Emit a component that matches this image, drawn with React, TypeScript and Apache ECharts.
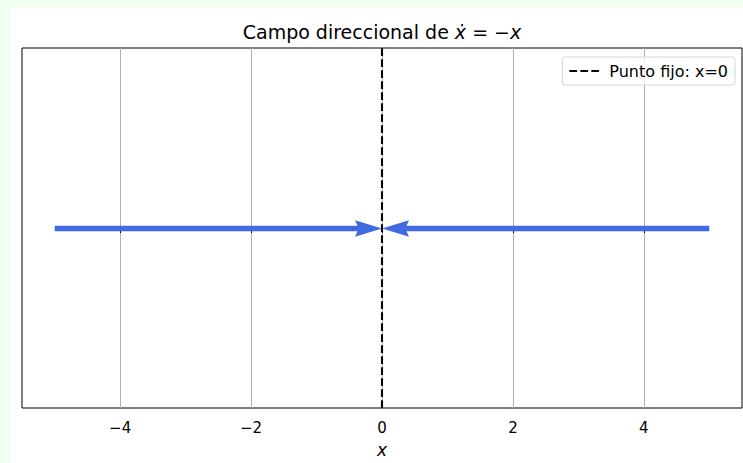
import React, { useEffect, useRef } from "react";
import * as echarts from "echarts";

// Direction field of x' = -x: arrows along the line pointing to the fixed point
const arrowTails = [-5, 5];
const arrowTips = [0, 0];
const arrowLevel = 0;
const fixedPoint = 0;
const fixedPointLabel = "Punto fijo: x=0";
const xTicks = [-4, -2, 0, 2, 4];
const xRange = [-5.5, 5.5];
const yRange = [-1, 1];

const FONT = "DejaVu Sans";
const BLUE = "#4169e1";

export default function App() {
  const ref = useRef<HTMLDivElement>(null);

  useEffect(() => {
    if (!ref.current) return;
    const chart = echarts.init(ref.current, undefined, { renderer: "svg" });

    const arrowData = arrowTails.map((t, i) => [t, arrowTips[i], arrowLevel]);

    chart.setOption({
      animation: false,
      backgroundColor: "#ffffff",
      graphic: [
        {
          type: "text",
          x: 372,
          y: 24,
          style: {
            text: "{n|Campo direccional de }{i|ẋ}{n| = −}{i|x}",
            align: "center",
            verticalAlign: "middle",
            rich: {
              n: { fontFamily: FONT, fontSize: 19, fill: "#000" },
              i: { fontFamily: FONT, fontSize: 19, fontStyle: "italic", fill: "#000" },
            },
          },
        },
      ],
      grid: {
        left: 12,
        right: 1,
        top: 40,
        bottom: 55,
        show: true,
        borderColor: "#000",
        borderWidth: 1,
        backgroundColor: "#fff",
      },
      legend: {
        right: 8,
        top: 49,
        padding: [6, 7, 6, 6],
        itemWidth: 30,
        itemHeight: 10,
        itemGap: 10,
        backgroundColor: "rgba(255,255,255,0.8)",
        borderColor: "#d5d5d5",
        borderWidth: 1,
        borderRadius: 3,
        itemStyle: { opacity: 0 },
        textStyle: { fontFamily: FONT, fontSize: 16, color: "#000", padding: [0, 0, 0, 5] },
        data: [fixedPointLabel],
      },
      xAxis: {
        type: "value",
        min: xRange[0],
        max: xRange[1],
        name: "x",
        nameLocation: "middle",
        nameGap: 33,
        nameTextStyle: { fontFamily: FONT, fontSize: 17, fontStyle: "italic", color: "#000" },
        axisLine: { show: false },
        axisTick: {
          show: true,
          customValues: xTicks,
          length: 5,
          lineStyle: { color: "#000", width: 1 },
        },
        axisLabel: {
          customValues: xTicks,
          margin: 12,
          fontFamily: FONT,
          fontSize: 15,
          color: "#000",
          formatter: (v: number) => String(v).replace("-", "−"),
        },
        splitLine: { show: true, lineStyle: { color: "#b0b0b0", width: 1 } },
      },
      yAxis: {
        type: "value",
        min: yRange[0],
        max: yRange[1],
        show: false,
        splitLine: { show: false },
      },
      series: [
        {
          type: "custom",
          name: "campo",
          z: 2,
          data: arrowData,
          renderItem: (_params: any, api: any) => {
            const p0 = api.coord([api.value(0), api.value(2)]);
            const p1 = api.coord([api.value(1), api.value(2)]);
            const dir = p1[0] >= p0[0] ? 1 : -1;
            const y = p0[1] + 0.5;
            const sh = 2.75; // half shaft width
            const hh = 8.25; // half head width
            const headLen = 27;
            const headAxis = 24.5;
            const tip = p1[0];
            const back = tip - dir * headLen;
            const notch = tip - dir * headAxis;
            return {
              type: "polygon",
              shape: {
                points: [
                  [p0[0], y - sh],
                  [notch, y - sh],
                  [back, y - hh],
                  [tip, y],
                  [back, y + hh],
                  [notch, y + sh],
                  [p0[0], y + sh],
                ],
              },
              style: { fill: BLUE },
            };
          },
        },
        {
          type: "line",
          name: fixedPointLabel,
          z: 5,
          symbol: "none",
          data: [
            [fixedPoint, yRange[0]],
            [fixedPoint, yRange[1]],
          ],
          lineStyle: { color: "#000", width: 2.1, type: [7.7, 3.3] },
          itemStyle: { color: "#000" },
        },
      ],
    });

    return () => chart.dispose();
  }, []);

  return (
    <div
      style={{
        position: "fixed",
        left: 0,
        top: 0,
        right: 0,
        bottom: 0,
        background: "#f0fff0",
        overflow: "hidden",
      }}
    >
      <div
        ref={ref}
        style={{ position: "absolute", left: 10, top: 8, width: 733, height: 455, background: "#fff" }}
      />
    </div>
  );
}
